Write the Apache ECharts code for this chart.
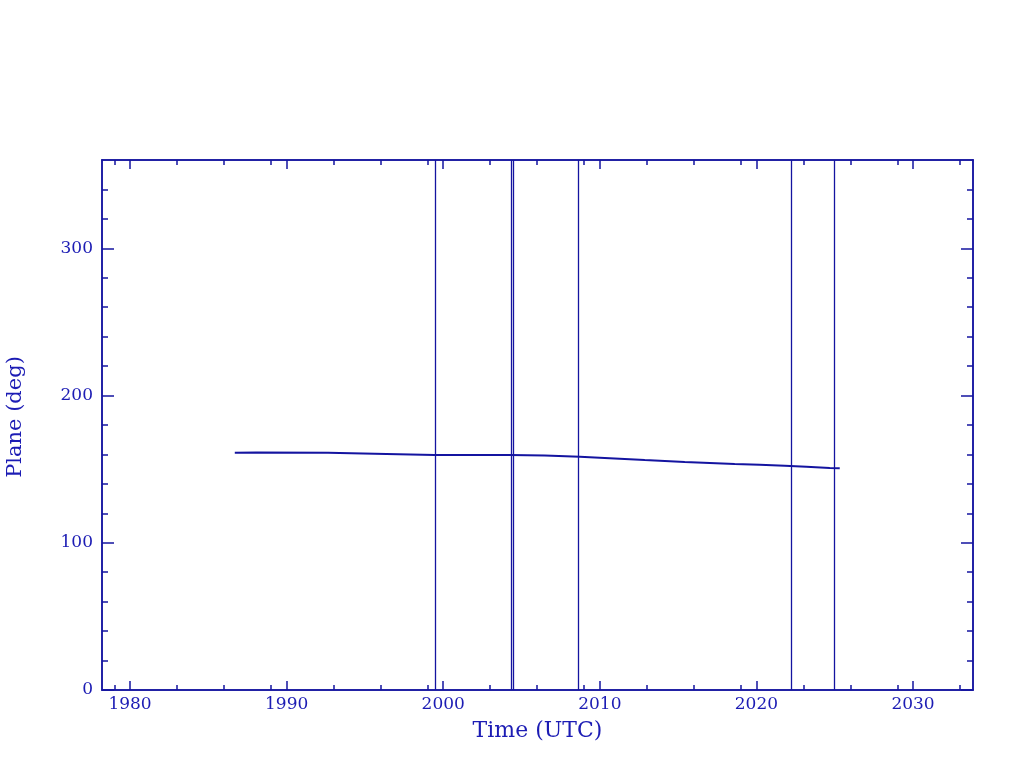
<!DOCTYPE html>
<html>
<head>
<meta charset="utf-8">
<script src="https://cdn.jsdelivr.net/npm/echarts@6/dist/echarts.min.js"></script>
<style>
html,body{margin:0;padding:0;background:#fff;}
#chart{width:1024px;height:768px;}
</style>
</head>
<body>
<div id="chart"></div>
<script>
// Data
var years = [1986.69, 1988.07, 1992.64, 1996.37, 1999.46, 2004.25, 2006.48, 2008.72, 2010.31, 2011.59, 2012.87, 2014.15, 2015.42, 2017.02, 2018.61, 2020.21, 2021.81, 2023.19, 2024.68, 2025.32];
var plane = [161.2, 161.4, 161.1, 160.3, 159.6, 159.6, 159.2, 158.5, 157.6, 156.9, 156.2, 155.6, 154.9, 154.2, 153.5, 153.0, 152.4, 151.7, 150.8, 150.6];
var eventTimes = [1999.48, 2004.37, 2004.45, 2008.63, 2022.21, 2024.96];

// Axis ticks
var xMajor = [1980, 1990, 2000, 2010, 2020, 2030];
var xMinor = [1979, 1983, 1986, 1989, 1993, 1996, 1999, 2003, 2006, 2009, 2013, 2016, 2019, 2023, 2026, 2029, 2033];
var yMajor = [0, 100, 200, 300];
var yMinor = [20, 40, 60, 80, 120, 140, 160, 180, 220, 240, 260, 280, 320, 340];

var X_MIN = 1978.21, X_MAX = 2033.83, Y_MIN = 0, Y_MAX = 360;
var AX = '#1414a0', TX = '#1c1cb4';
var FONT = 'DejaVu Serif';

var data = years.map(function (y, i) { return [y, plane[i]]; });

function xAx(pos, ticks, len, opts) {
  var a = {
    type: 'value', position: pos, min: X_MIN, max: X_MAX, offset: 0,
    splitLine: { show: false },
    axisLine: { show: true, onZero: false, lineStyle: { color: AX, width: 1.5 } },
    axisTick: { show: true, inside: true, length: len, customValues: ticks, lineStyle: { color: AX, width: 1.5 } },
    axisLabel: { show: false }
  };
  return Object.assign(a, opts || {});
}
function yAx(pos, ticks, len, opts) {
  var a = {
    type: 'value', position: pos, min: Y_MIN, max: Y_MAX, offset: 0,
    splitLine: { show: false },
    axisLine: { show: true, onZero: false, lineStyle: { color: AX, width: 1.5 } },
    axisTick: { show: true, inside: true, length: len, customValues: ticks, lineStyle: { color: AX, width: 1.5 } },
    axisLabel: { show: false }
  };
  return Object.assign(a, opts || {});
}

var chart = echarts.init(document.getElementById('chart'), null, { renderer: 'canvas' });
chart.setOption({
  animation: false,
  backgroundColor: '#ffffff',
  grid: { left: 102, right: 51, top: 160, bottom: 78, containLabel: false, outerBoundsMode: 'none' },
  xAxis: [
    xAx('bottom', xMajor, 9, {
      name: 'Time (UTC)', nameLocation: 'middle', nameGap: 30,
      nameTextStyle: { color: TX, fontFamily: FONT, fontSize: 22 },
      axisLabel: { show: true, customValues: xMajor, color: TX, fontFamily: FONT, fontSize: 17, margin: 6,
        formatter: function (v) { return String(Math.round(v)); } }
    }),
    xAx('bottom', xMinor, 5),
    xAx('top', xMajor, 9),
    xAx('top', xMinor, 5)
  ],
  yAxis: [
    yAx('left', yMajor, 12, {
      name: 'Plane (deg)', nameLocation: 'middle', nameGap: 76,
      nameTextStyle: { color: TX, fontFamily: FONT, fontSize: 21, padding: [0, 0, 0, 16] },
      axisLabel: { show: true, customValues: yMajor, color: TX, fontFamily: FONT, fontSize: 17, margin: 9 }
    }),
    yAx('left', yMinor, 6),
    yAx('right', yMajor, 12),
    yAx('right', yMinor, 6)
  ],
  series: [{
    type: 'line',
    xAxisIndex: 0, yAxisIndex: 0,
    data: data,
    showSymbol: false,
    lineStyle: { color: AX, width: 2 },
    markLine: {
      silent: true,
      symbol: ['none', 'none'],
      label: { show: false },
      lineStyle: { color: AX, width: 1.3, type: 'solid' },
      data: eventTimes.map(function (t) { return { xAxis: t }; })
    }
  }]
});
</script>
</body>
</html>
